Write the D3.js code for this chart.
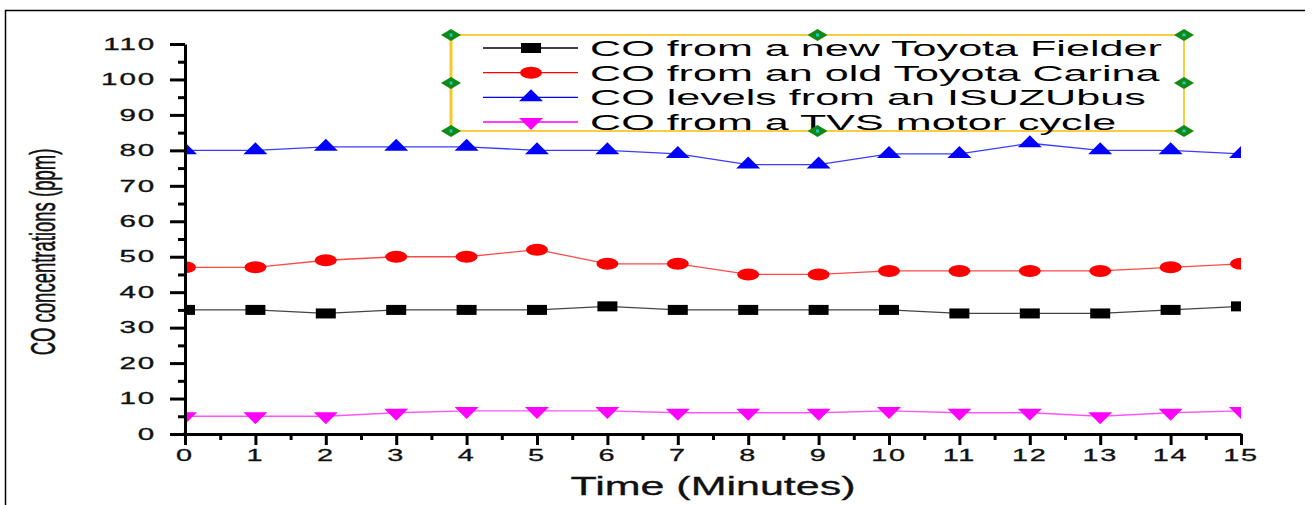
<!DOCTYPE html>
<html>
<head>
<meta charset="utf-8">
<script src="https://cdn.jsdelivr.net/npm/d3@7"></script>
<style>
  body { margin: 0; background: #fff; }
  svg { display: block; font-family: "Liberation Sans", Arial, sans-serif; }
</style>
</head>
<body>
<div id="vis_container"></div>
<script>
// data
var minutes = [0, 1, 2, 3, 4, 5, 6, 7, 8, 9, 10, 11, 12, 13, 14, 15];
var fielder = [35, 35, 34, 35, 35, 35, 36, 35, 35, 35, 35, 34, 34, 34, 35, 36];
var carina  = [47, 47, 49, 50, 50, 52, 48, 48, 45, 45, 46, 46, 46, 46, 47, 48];
var isuzu   = [80, 80, 81, 81, 81, 80, 80, 79, 76, 76, 79, 79, 82, 80, 80, 79];
var tvs     = [5, 5, 5, 6, 6.5, 6.5, 6.5, 6, 6, 6, 6.5, 6, 6, 5, 6, 6.5];
var yTicks  = [0, 10, 20, 30, 40, 50, 60, 70, 80, 90, 100, 110];
var yMinor  = [5, 15, 25, 35, 45, 55, 65, 75, 85, 95, 105];
var xMinor  = [0.5, 1.5, 2.5, 3.5, 4.5, 5.5, 6.5, 7.5, 8.5, 9.5, 10.5, 11.5, 12.5, 13.5, 14.5];
var seriesNames = ["CO from a new Toyota Fielder", "CO from an old Toyota Carina",
                   "CO levels from an ISUZUbus", "CO from a TVS motor cycle"];

var chart = {};
chart.width = 1315;
chart.height = 505;
chart.left = 185; chart.right = 1241; chart.top = 44; chart.bottom = 434;

chart.series = [
  {name: seriesNames[0], values: fielder, color: "#000000", line: "#444444", shape: "square"},
  {name: seriesNames[1], values: carina,  color: "#ff0000", line: "#ff4a4a", shape: "circle"},
  {name: seriesNames[2], values: isuzu,   color: "#0000ff", line: "#3b3bff", shape: "up"},
  {name: seriesNames[3], values: tvs,     color: "#ff00ff", line: "#ff55ff", shape: "down"}
];

chart.x = d3.scaleLinear().domain([0, 15]).range([chart.left, chart.right]);
chart.y = d3.scaleLinear().domain([0, 110]).range([chart.bottom, chart.top]);

chart.svg = d3.select("#vis_container").append("svg")
  .attr("width", chart.width)
  .attr("height", chart.height);

// stretched text helper (the picture is widened horizontally)
function wideText(parent, x, y, sx, str, anchor, size, rotate) {
  var g = parent.append("g")
    .attr("transform", "translate(" + x + "," + y + ") scale(" + sx + ",1)" + (rotate ? " rotate(" + rotate + ")" : ""));
  return g.append("text")
    .attr("text-anchor", anchor)
    .attr("font-size", size)
    .attr("dy", "0.36em")
    .attr("fill", "#111")
    .text(str);
}

// frame
chart.svg.append("path")
  .attr("d", "M5.5," + chart.height + "V10.5H1305")
  .attr("fill", "none").attr("stroke", "#000").attr("stroke-width", 1.5);

// symbol drawing
function marker(sel, shape, color, cx, cy) {
  if (shape === "square") {
    sel.append("rect").attr("x", cx - 10).attr("y", cy - 5).attr("width", 20).attr("height", 10).attr("fill", color);
  } else if (shape === "circle") {
    sel.append("ellipse").attr("cx", cx).attr("cy", cy).attr("rx", 11).attr("ry", 6).attr("fill", color);
  } else if (shape === "up") {
    sel.append("path").attr("d", "M" + cx + "," + (cy - 8) + "L" + (cx + 12) + "," + (cy + 4) + "L" + (cx - 12) + "," + (cy + 4) + "Z").attr("fill", color);
  } else {
    sel.append("path").attr("d", "M" + (cx - 12) + "," + (cy - 4) + "L" + (cx + 12) + "," + (cy - 4) + "L" + cx + "," + (cy + 8) + "Z").attr("fill", color);
  }
}

chart.svg.append("clipPath").attr("id", "plotClip")
  .append("rect")
  .attr("x", chart.left).attr("y", 20)
  .attr("width", chart.right - chart.left).attr("height", chart.bottom - 20);

chart.plot = chart.svg.append("g").attr("clip-path", "url(#plotClip)");

chart.line = d3.line()
  .x(function(d, i) { return chart.x(minutes[i]); })
  .y(function(d) { return chart.y(d); });

chart.series.forEach(function(s) {
  chart.plot.append("path")
    .attr("d", chart.line(s.values))
    .attr("fill", "none")
    .attr("stroke", s.line)
    .attr("stroke-width", 1.3);
  var g = chart.plot.append("g");
  s.values.forEach(function(v, i) {
    marker(g, s.shape, s.color, chart.x(minutes[i]), chart.y(v));
  });
});

// axes
chart.axisY = chart.svg.append("g")
  .attr("transform", "translate(" + chart.left + ",0)")
  .call(d3.axisLeft(chart.y).tickValues(yTicks).tickSize(15).tickSizeOuter(0).tickFormat(""));
chart.axisYm = chart.svg.append("g")
  .attr("transform", "translate(" + chart.left + ",0)")
  .call(d3.axisLeft(chart.y).tickValues(yMinor).tickSize(7).tickSizeOuter(0).tickFormat(""));
chart.axisX = chart.svg.append("g")
  .attr("transform", "translate(0," + chart.bottom + ")")
  .call(d3.axisBottom(chart.x).tickValues(minutes).tickSize(11).tickSizeOuter(0).tickFormat(""));
chart.axisXm = chart.svg.append("g")
  .attr("transform", "translate(0," + chart.bottom + ")")
  .call(d3.axisBottom(chart.x).tickValues(xMinor).tickSize(6).tickSizeOuter(0).tickFormat(""));

chart.svg.selectAll(".domain").attr("stroke", "#000").attr("stroke-width", 3);
chart.svg.selectAll(".tick line").attr("stroke", "#000").attr("stroke-width", 3);
chart.axisYm.select(".domain").remove();
chart.axisXm.select(".domain").remove();
// square the corner of the two axes
chart.svg.append("rect").attr("x", chart.left - 1.5).attr("y", chart.bottom - 1.5).attr("width", 3).attr("height", 3).attr("fill", "#000");

yTicks.forEach(function(t) {
  wideText(chart.svg, 156, chart.y(t), 1.85, String(t), "end", 16)
    .attr("letter-spacing", 1).attr("stroke", "#111").attr("stroke-width", 0.3);
});
minutes.forEach(function(t) {
  wideText(chart.svg, chart.x(t), 455, 1.7, String(t), "middle", 17)
    .attr("letter-spacing", 1).attr("stroke", "#111").attr("stroke-width", 0.3);
});

wideText(chart.svg, (chart.left + chart.right) / 2, 486, 1.72, "Time (Minutes)", "middle", 25)
  .attr("stroke", "#111").attr("stroke-width", 0.3);
wideText(chart.svg, 43, 252, 1.85, "CO concentrations (ppm)", "middle", 18.5, -90)
  .attr("stroke", "#111").attr("stroke-width", 0.3);

// legend
chart.legend = {left: 451, right: 1184, top: 35, bottom: 131};
var L = chart.legend;
chart.svg.append("rect")
  .attr("x", L.left).attr("y", L.top)
  .attr("width", L.right - L.left).attr("height", L.bottom - L.top)
  .attr("fill", "#fff").attr("stroke", "#f5c211").attr("stroke-width", 1.6);
chart.svg.append("line")
  .attr("x1", L.left).attr("x2", L.left).attr("y1", L.top).attr("y2", L.bottom)
  .attr("stroke", "#f8c72a").attr("stroke-width", 3);

var legRows = d3.scaleLinear().domain([0, 3]).range([48, 122]);
chart.series.forEach(function(s, i) {
  var yy = legRows(i);
  chart.svg.append("line")
    .attr("x1", 483).attr("x2", 578).attr("y1", yy).attr("y2", yy)
    .attr("stroke", s.color).attr("stroke-width", 1.3);
  marker(chart.svg, s.shape, s.color, 531, yy);
  wideText(chart.svg, 590, yy, 1.96, s.name, "start", 22).attr("fill", "#000");
});

// selection handles
var hx = [L.left, (L.left + L.right) / 2, L.right];
var hy = [L.top, (L.top + L.bottom) / 2, L.bottom];
hx.forEach(function(x) {
  hy.forEach(function(y) {
    if (x === hx[1] && y === hy[1]) return;
    chart.svg.append("path")
      .attr("d", "M" + (x - 10) + "," + y + "L" + x + "," + (y - 6) + "L" + (x + 10) + "," + y + "L" + x + "," + (y + 6) + "Z")
      .attr("fill", "#128a12");
    chart.svg.append("rect")
      .attr("x", x - 1.5).attr("y", y - 1.5).attr("width", 3).attr("height", 3)
      .attr("fill", "#19c6d6");
  });
});
</script>
</body>
</html>
